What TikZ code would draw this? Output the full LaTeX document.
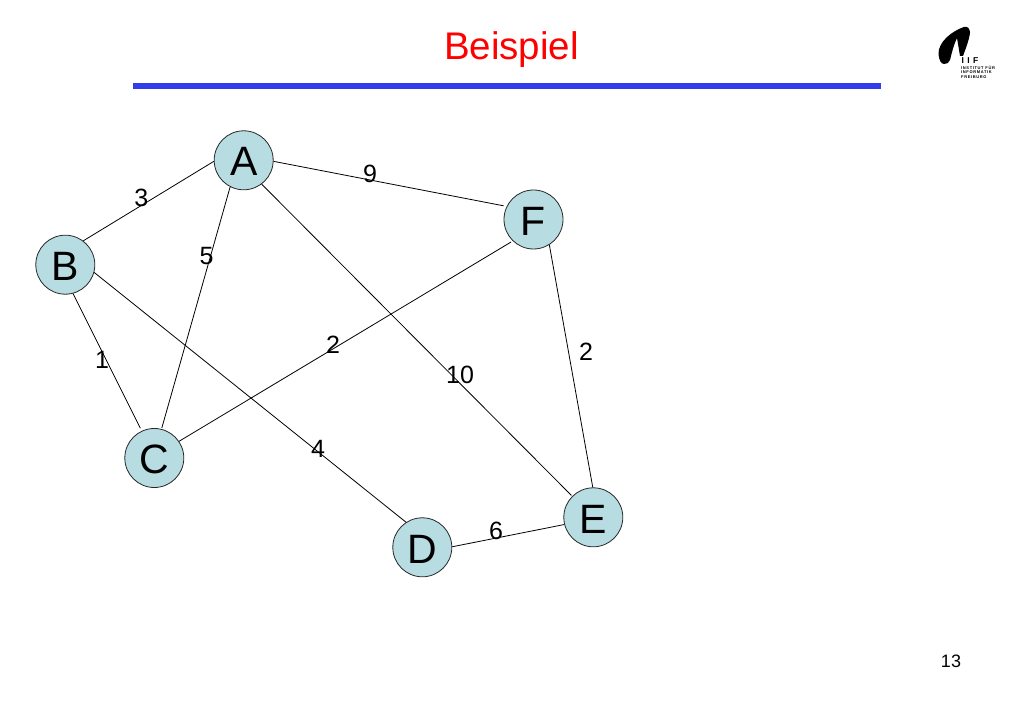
\documentclass[tikz,border=0pt]{standalone}
\usepackage{fontspec}
\setmainfont{Liberation Sans}
\definecolor{nodefill}{RGB}{183,220,226}
\definecolor{rule}{RGB}{50,60,235}
\tikzset{
  vertex/.style={circle,draw=black!85,line width=0.8pt,fill=nodefill,minimum size=59pt,inner sep=0pt,text height=31.4pt,text depth=0pt,font=\fontsize{41}{41}\selectfont},
  edge/.style={draw=black,line width=0.8pt},
  weight/.style={inner sep=0pt,font=\fontsize{25}{25}\selectfont},
}
\begin{document}
\begin{tikzpicture}[x=1pt,y=-1pt]
\useasboundingbox (0,0) rectangle (1023,708);
\node[inner sep=0pt,text=red,anchor=base,font=\fontsize{38.5}{38.5}\selectfont] (title) at (511.5,59.3) {Beispiel};
\coordinate (ruleL) at (133,86);
\coordinate (ruleR) at (881,86);
\draw[rule,line width=5.7pt] (ruleL) -- (ruleR);
\node[vertex] (A) at (243.7,160.3) {A};
\node[vertex] (B) at (65.3,264.7) {B};
\node[vertex] (C) at (154.3,458) {C};
\node[vertex] (D) at (422.3,547.3) {D};
\node[vertex] (E) at (593.3,517.3) {E};
\node[vertex] (F) at (533.5,219.5) {F};
\path[edge] (A.182) -- (B.53);
\path[edge,shorten >=1pt] (A.243) -- (C.76);
\path[edge,shorten >=3pt] (A.-2) -- (F.154);
\path[edge,shorten >=1pt] (A.-53.5) -- (E.135);
\path[edge,shorten >=3pt] (B.-75) -- (C.115);
\path[edge] (B.-15) -- (D.123.5);
\path[edge,shorten >=2pt] (C.34) -- (F.226);
\path[edge] (F.-58) -- (E.91);
\path[edge] (D.1) -- (E.194);
\node[weight] (w3) at (141.3,197.5) {3};
\node[weight] (w5) at (206.5,256) {5};
\node[weight] (w9) at (370,174) {9};
\node[weight] (w1) at (102,360) {1};
\node[weight] (w2a) at (333,345) {2};
\node[weight] (w2b) at (586,352) {2};
\node[weight] (w10) at (460,375) {10};
\node[weight] (w4) at (318,449) {4};
\node[weight] (w6) at (496,530.7) {6};
\node[inner sep=0pt,font=\fontsize{18}{18}\selectfont] (page) at (951,661) {13};
\fill[black] (964,27) .. controls (952,31) and (938,42) .. (938.5,54) .. controls (939,60) and (941,64) .. (944,64) .. controls (947,64) and (949,63) .. (950,60) .. controls (952,52) and (954,44) .. (957,38) .. controls (958,44) and (959,50) .. (960,56) -- (963,56) .. controls (966,48) and (969,40) .. (970,33) .. controls (970,29) and (968,26) .. (964,27) -- cycle;
\node[inner sep=0pt,anchor=base west,font=\bfseries\fontsize{8.5}{8.5}\selectfont\addfontfeatures{LetterSpace=40}] (iif) at (961.5,63.5) {IIF};
\node[inner sep=0pt,align=left,anchor=north west,font=\bfseries\fontsize{4}{4.5}\selectfont\addfontfeatures{LetterSpace=16}] (iiftext) at (961,65.5) {INSTITUT FÜR\\INFORMATIK\\FREIBURG};
\end{tikzpicture}
\end{document}
